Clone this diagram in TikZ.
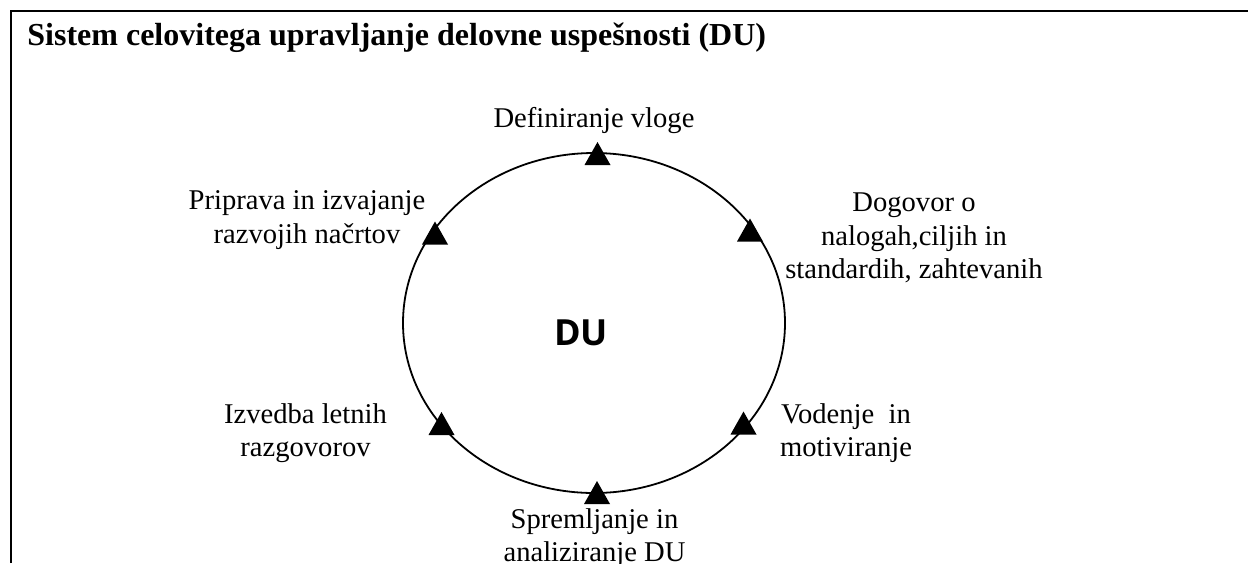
\documentclass[tikz,border=0pt]{standalone}
\usepackage{fontspec}
\setmainfont{Liberation Serif}
\newfontfamily\dusans{Open Sans}
\usetikzlibrary{shapes.geometric}
\begin{document}
\begin{tikzpicture}[x=0.5pt,y=-0.5pt,
  steplabel/.style={font=\fontsize{14.3}{16.75}\selectfont, align=center, inner sep=0},
  cyclering/.style={draw, line width=0.9pt, ellipse, inner sep=0,
    minimum width=191pt, minimum height=170pt},
  marker/.pic={\fill (0,-12) -- (13,11) -- (-13,11) -- cycle;}]
\useasboundingbox (0,0) rectangle (1248,563);
% frame
\draw[line width=1.4pt] (11,563) -- (11,11) -- (1248,11);
% heading
\node[anchor=base west, inner sep=0, font=\fontsize{16}{19}\selectfont\bfseries]
  (title) at (27,45) {Sistem celovitega upravljanje delovne uspešnosti (DU)};
% cycle
\node[cyclering] (ring) at (594,323) {};
\node[anchor=base, inner sep=0, font=\fontsize{18}{20}\dusans\bfseries] (du) at (581,345) {DU};
% markers on the cycle
\pic (m1) at (597.5,154) {marker};
\pic (m2) at (750,230.5) {marker};
\pic (m3) at (743.5,423.5) {marker};
\pic (m4) at (597,493) {marker};
\pic (m5) at (441.5,424) {marker};
\pic (m6) at (435,233.5) {marker};
% step labels
\node[steplabel, anchor=base] (s1) at (594,127) {Definiranje vloge};
\node[steplabel] (s2) at (914,238) {Dogovor o\\nalogah,ciljih in\\standardih, zahtevanih};
\node[steplabel] (s3) at (846,433) {Vodenje\ \ in\\motiviranje};
\node[steplabel] (s4) at (594.5,538) {Spremljanje in\\analiziranje DU};
\node[steplabel] (s5) at (305.5,433) {Izvedba letnih\\razgovorov};
\node[steplabel] (s6) at (307,220) {Priprava in izvajanje\\razvojih načrtov};
\end{tikzpicture}
\end{document}
